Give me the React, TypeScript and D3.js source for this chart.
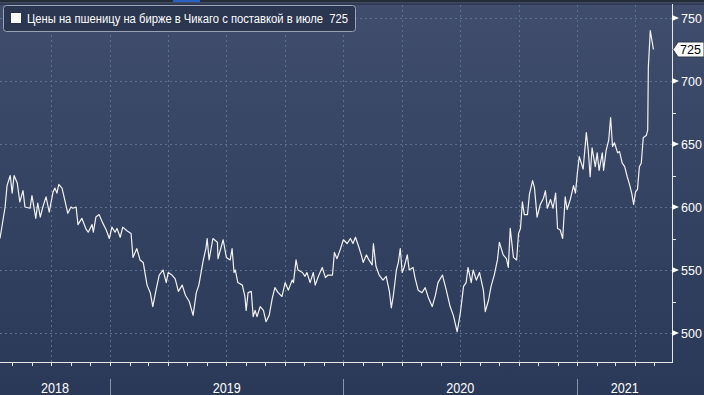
import React, { useEffect, useRef } from 'react'
import * as d3 from 'd3'

// daily-ish closes
const dates = [
  '2018-07-13', '2018-07-21', '2018-07-24', '2018-07-29', '2018-08-01', '2018-08-04', '2018-08-09', '2018-08-13',
  '2018-08-18', '2018-08-21', '2018-08-29', '2018-09-01', '2018-09-07', '2018-09-10', '2018-09-14', '2018-09-18',
  '2018-09-23', '2018-09-28', '2018-10-04', '2018-10-07', '2018-10-10', '2018-10-13', '2018-10-18', '2018-10-23',
  '2018-10-27', '2018-11-01', '2018-11-04', '2018-11-09', '2018-11-12', '2018-11-18', '2018-11-25', '2018-11-28',
  '2018-12-04', '2018-12-06', '2018-12-10', '2018-12-15', '2018-12-20', '2018-12-26', '2018-12-31', '2019-01-04',
  '2019-01-09', '2019-01-12', '2019-01-17', '2019-01-21', '2019-01-28', '2019-02-03', '2019-02-06', '2019-02-12',
  '2019-02-17', '2019-02-22', '2019-02-28', '2019-03-05', '2019-03-09', '2019-03-14', '2019-03-19', '2019-03-25',
  '2019-03-30', '2019-04-02', '2019-04-08', '2019-04-13', '2019-04-18', '2019-04-24', '2019-04-29', '2019-05-05',
  '2019-05-11', '2019-05-16', '2019-05-20', '2019-05-27', '2019-05-31', '2019-06-02', '2019-06-05', '2019-06-11',
  '2019-06-18', '2019-06-19', '2019-06-27', '2019-07-02', '2019-07-08', '2019-07-11', '2019-07-14', '2019-07-16',
  '2019-07-20', '2019-07-27', '2019-07-31', '2019-08-02', '2019-08-05', '2019-08-10', '2019-08-13', '2019-08-16',
  '2019-08-19', '2019-08-24', '2019-08-29', '2019-09-02', '2019-09-07', '2019-09-12', '2019-09-16', '2019-09-21',
  '2019-09-27', '2019-10-02', '2019-10-07', '2019-10-13', '2019-10-15', '2019-10-19', '2019-10-22', '2019-10-29',
  '2019-11-02', '2019-11-05', '2019-11-10', '2019-11-15', '2019-11-18', '2019-11-23', '2019-11-29', '2019-12-04',
  '2019-12-08', '2019-12-15', '2019-12-18', '2019-12-22', '2019-12-27', '2020-01-01', '2020-01-07', '2020-01-12',
  '2020-01-16', '2020-01-20', '2020-01-24', '2020-01-29', '2020-02-01', '2020-02-06', '2020-02-10', '2020-02-15',
  '2020-02-17', '2020-02-21', '2020-02-26', '2020-03-03', '2020-03-08', '2020-03-13', '2020-03-16', '2020-03-19',
  '2020-03-24', '2020-03-27', '2020-03-30', '2020-04-02', '2020-04-05', '2020-04-10', '2020-04-13', '2020-04-19',
  '2020-04-22', '2020-04-27', '2020-05-03', '2020-05-08', '2020-05-13', '2020-05-19', '2020-05-24', '2020-05-28',
  '2020-06-04', '2020-06-10', '2020-06-16', '2020-06-21', '2020-06-27', '2020-07-02', '2020-07-07', '2020-07-11',
  '2020-07-14', '2020-07-19', '2020-07-22', '2020-07-27', '2020-08-01', '2020-08-07', '2020-08-10', '2020-08-15',
  '2020-08-19', '2020-08-24', '2020-08-29', '2020-09-01', '2020-09-07', '2020-09-12', '2020-09-15', '2020-09-18',
  '2020-09-23', '2020-09-28', '2020-10-01', '2020-10-04', '2020-10-07', '2020-10-10', '2020-10-15', '2020-10-18',
  '2020-10-23', '2020-10-26', '2020-10-30', '2020-11-04', '2020-11-09', '2020-11-12', '2020-11-15', '2020-11-20',
  '2020-11-24', '2020-11-28', '2020-12-01', '2020-12-05', '2020-12-09', '2020-12-13', '2020-12-16', '2020-12-21',
  '2020-12-26', '2020-12-29', '2021-01-01', '2021-01-04', '2021-01-10', '2021-01-15', '2021-01-18', '2021-01-21',
  '2021-01-24', '2021-01-29', '2021-02-01', '2021-02-04', '2021-02-09', '2021-02-11', '2021-02-15', '2021-02-19',
  '2021-02-22', '2021-02-25', '2021-02-28', '2021-03-05', '2021-03-08', '2021-03-12', '2021-03-16', '2021-03-20',
  '2021-03-23', '2021-03-27', '2021-03-30', '2021-04-02', '2021-04-05', '2021-04-08', '2021-04-11', '2021-04-14',
  '2021-04-19', '2021-04-21', '2021-04-22', '2021-04-24', '2021-04-25', '2021-04-28', '2021-04-30',
]
const prices = [
  575, 600, 617, 625, 611, 625, 619, 604,
  613, 600, 599, 609, 591, 603, 592, 600,
  608, 596, 612, 615, 611, 618, 615, 604,
  595, 600, 599, 600, 586, 591, 582, 580,
  586, 580, 592, 594, 588, 582, 575, 584,
  580, 583, 576, 584, 581, 579, 560, 567,
  558, 556, 538, 532, 521, 534, 546, 550,
  540, 548, 546, 543, 533, 538, 530, 525,
  514, 532, 538, 558, 567, 575, 558, 575,
  572, 559, 574, 560, 558, 567, 548, 550,
  540, 538, 529, 518, 532, 533, 513, 518,
  513, 521, 518, 509, 514, 528, 536, 532,
  529, 540, 534, 542, 540, 558, 550, 548,
  545, 548, 540, 548, 538, 545, 552, 544,
  546, 546, 564, 559, 566, 574, 571, 575,
  571, 576, 570, 562, 556, 562, 558, 554,
  571, 553, 546, 542, 545, 533, 520, 529,
  550, 556, 567, 548, 552, 562, 550, 552,
  544, 534, 532, 536, 528, 521, 530, 540,
  546, 534, 521, 514, 501, 516, 537, 540,
  552, 540, 550, 542, 548, 534, 517, 526,
  537, 546, 558, 572, 562, 559, 552, 583,
  560, 558, 579, 583, 604, 594, 594, 610,
  621, 615, 592, 602, 607, 613, 599, 606,
  599, 611, 583, 582, 575, 608, 598, 606,
  617, 611, 627, 640, 630, 659, 645, 624,
  647, 632, 643, 629, 643, 629, 645, 653,
  671, 648, 651, 643, 644, 635, 632, 624,
  619, 611, 602, 612, 614, 632, 635, 655,
  657, 661, 711, 730, 740, 731, 725,
]
const priceTicks = [500, 550, 600, 650, 700, 750]
const minorTicks = [525, 575, 625, 675, 725]
const years = ['2018', '2019', '2020', '2021']
const legendLabel = 'Цены на пшеницу на бирже в Чикаго с поставкой в июле'
const lastValue = 725

function App() {
  const svgRef = useRef<SVGSVGElement>(null)

  useEffect(() => {
    const w = 704
    const h = 395
    const right = 672
    const top = 4
    const bottom = 362
    const font = "'Liberation Sans', Arial, sans-serif"

    const svg = d3.select(svgRef.current)
    svg.selectAll('*').remove()

    const parse = d3.timeParse('%Y-%m-%d')
    const data = dates.map((d, i) => ({ date: parse(d) as Date, value: prices[i] }))

    const start = new Date(2018, 6, 13)
    const end = new Date(2021, 4, 29)
    const x = d3.scaleTime().domain([start, end]).range([0, right])
    const y = d3.scaleLinear().domain([500, 750]).range([333, 18])

    // background
    const defs = svg.append('defs')
    const grad = defs.append('linearGradient').attr('id', 'bg')
      .attr('x1', 0).attr('y1', 0).attr('x2', 0).attr('y2', 1)
    grad.append('stop').attr('offset', '0%').attr('stop-color', '#404d6d')
    grad.append('stop').attr('offset', '100%').attr('stop-color', '#2a3957')
    svg.append('rect').attr('width', w).attr('height', h).attr('fill', 'url(#bg)')

    // top strip
    svg.append('rect').attr('width', w).attr('height', 2.5).attr('fill', '#262c38')
    svg.append('rect').attr('x', 173).attr('width', 27).attr('height', 2).attr('fill', '#2a62c4')
    svg.append('rect').attr('y', 2.5).attr('width', w).attr('height', 1).attr('fill', '#4f5a72')
    svg.append('rect').attr('y', 3.5).attr('width', w).attr('height', 1).attr('fill', '#222a3b')

    // grid
    const quarters = d3.timeMonth.every(3)!.range(start, end)
    svg.append('g').selectAll('line').data(quarters).join('line')
      .attr('x1', d => Math.round(x(d)) + 0.5).attr('x2', d => Math.round(x(d)) + 0.5)
      .attr('y1', top + 1).attr('y2', bottom)
      .attr('stroke', '#5a7190').attr('stroke-dasharray', '2,3')
    svg.append('g').selectAll('line').data(priceTicks).join('line')
      .attr('x1', 0).attr('x2', right)
      .attr('y1', d => Math.round(y(d)) + 0.5).attr('y2', d => Math.round(y(d)) + 0.5)
      .attr('stroke', '#5a7190').attr('stroke-dasharray', '2,3')

    // legend
    svg.append('rect').attr('x', 3.5).attr('y', 5.5).attr('width', 352).attr('height', 26).attr('rx', 3)
      .attr('fill', '#2b3651').attr('stroke', '#9aa3b4')
    svg.append('rect').attr('x', 11).attr('y', 13).attr('width', 10).attr('height', 10).attr('fill', '#ffffff')
    svg.append('text').attr('x', 27).attr('y', 22.5).attr('fill', '#ffffff')
      .style('font-family', font).style('font-size', '12px')
      .attr('textLength', 321).attr('lengthAdjust', 'spacingAndGlyphs')
      .text(legendLabel + '\u00a0\u00a0' + lastValue)

    // price line
    const line = d3.line<{ date: Date, value: number }>()
      .x(d => x(d.date))
      .y(d => y(d.value))
    svg.append('path').datum(data)
      .attr('d', line)
      .attr('fill', 'none')
      .attr('stroke', '#f2f2f2')
      .attr('stroke-width', 1.2)
      .attr('stroke-linejoin', 'round')

    // bottom axis
    svg.append('line').attr('x1', 0).attr('x2', right + 0.5).attr('y1', bottom + 0.5).attr('y2', bottom + 0.5)
      .attr('stroke', '#e6e6e6')
    svg.append('g').selectAll('line').data(d3.timeMonth.range(start, end)).join('line')
      .attr('x1', d => Math.round(x(d)) + 0.5).attr('x2', d => Math.round(x(d)) + 0.5)
      .attr('y1', bottom).attr('y2', bottom + 4)
      .attr('stroke', '#e6e6e6')

    const yearStarts = d3.timeYear.range(start, end)
    svg.append('g').selectAll('line').data(yearStarts).join('line')
      .attr('x1', d => Math.round(x(d)) + 0.5).attr('x2', d => Math.round(x(d)) + 0.5)
      .attr('y1', 379).attr('y2', h)
      .attr('stroke', '#8b95aa')
    svg.append('g').selectAll('text').data(years).join('text')
      .attr('x', (d) => {
        const a = Math.max(+start, +new Date(+d, 0, 1))
        const b = Math.min(+end, +new Date(+d + 1, 0, 1))
        return x(new Date((a + b) / 2))
      })
      .attr('y', 393)
      .attr('text-anchor', 'middle')
      .attr('fill', '#ffffff')
      .attr('textLength', 28).attr('lengthAdjust', 'spacingAndGlyphs')
      .style('font-family', font).style('font-size', '14.5px')
      .text(d => d)

    // right axis
    svg.append('line').attr('x1', right + 0.5).attr('x2', right + 0.5).attr('y1', top).attr('y2', bottom + 1)
      .attr('stroke', '#e6e6e6')
    svg.append('g').selectAll('path').data(priceTicks).join('path')
      .attr('d', d => `M${right},${y(d) - 3}L${right + 7},${y(d)}L${right},${y(d) + 3}Z`)
      .attr('fill', '#ffffff')
    svg.append('g').selectAll('line').data(minorTicks).join('line')
      .attr('x1', right).attr('x2', right + 4)
      .attr('y1', d => Math.round(y(d)) + 0.5).attr('y2', d => Math.round(y(d)) + 0.5)
      .attr('stroke', '#e6e6e6')
    svg.append('g').selectAll('text').data(priceTicks).join('text')
      .attr('x', 681).attr('y', d => y(d) + 4.5)
      .attr('fill', '#ffffff')
      .style('font-family', font).style('font-size', '12.5px')
      .text(d => d)

    // last value tag
    const ly = y(lastValue)
    svg.append('path')
      .attr('d', `M673,${ly}L678,${ly - 7.5}L704,${ly - 7.5}L704,${ly + 7.5}L678,${ly + 7.5}Z`)
      .attr('fill', '#ffffff').attr('stroke', '#30384a')
    svg.append('text').attr('x', 680).attr('y', ly + 4.5)
      .attr('fill', '#000000')
      .style('font-family', font).style('font-size', '12.5px')
      .text(String(lastValue))
  }, [])

  return (
    <svg ref={svgRef} width={704} height={395} style={{ position: 'absolute', left: 0, top: 0 }}></svg>
  )
}

export default App
